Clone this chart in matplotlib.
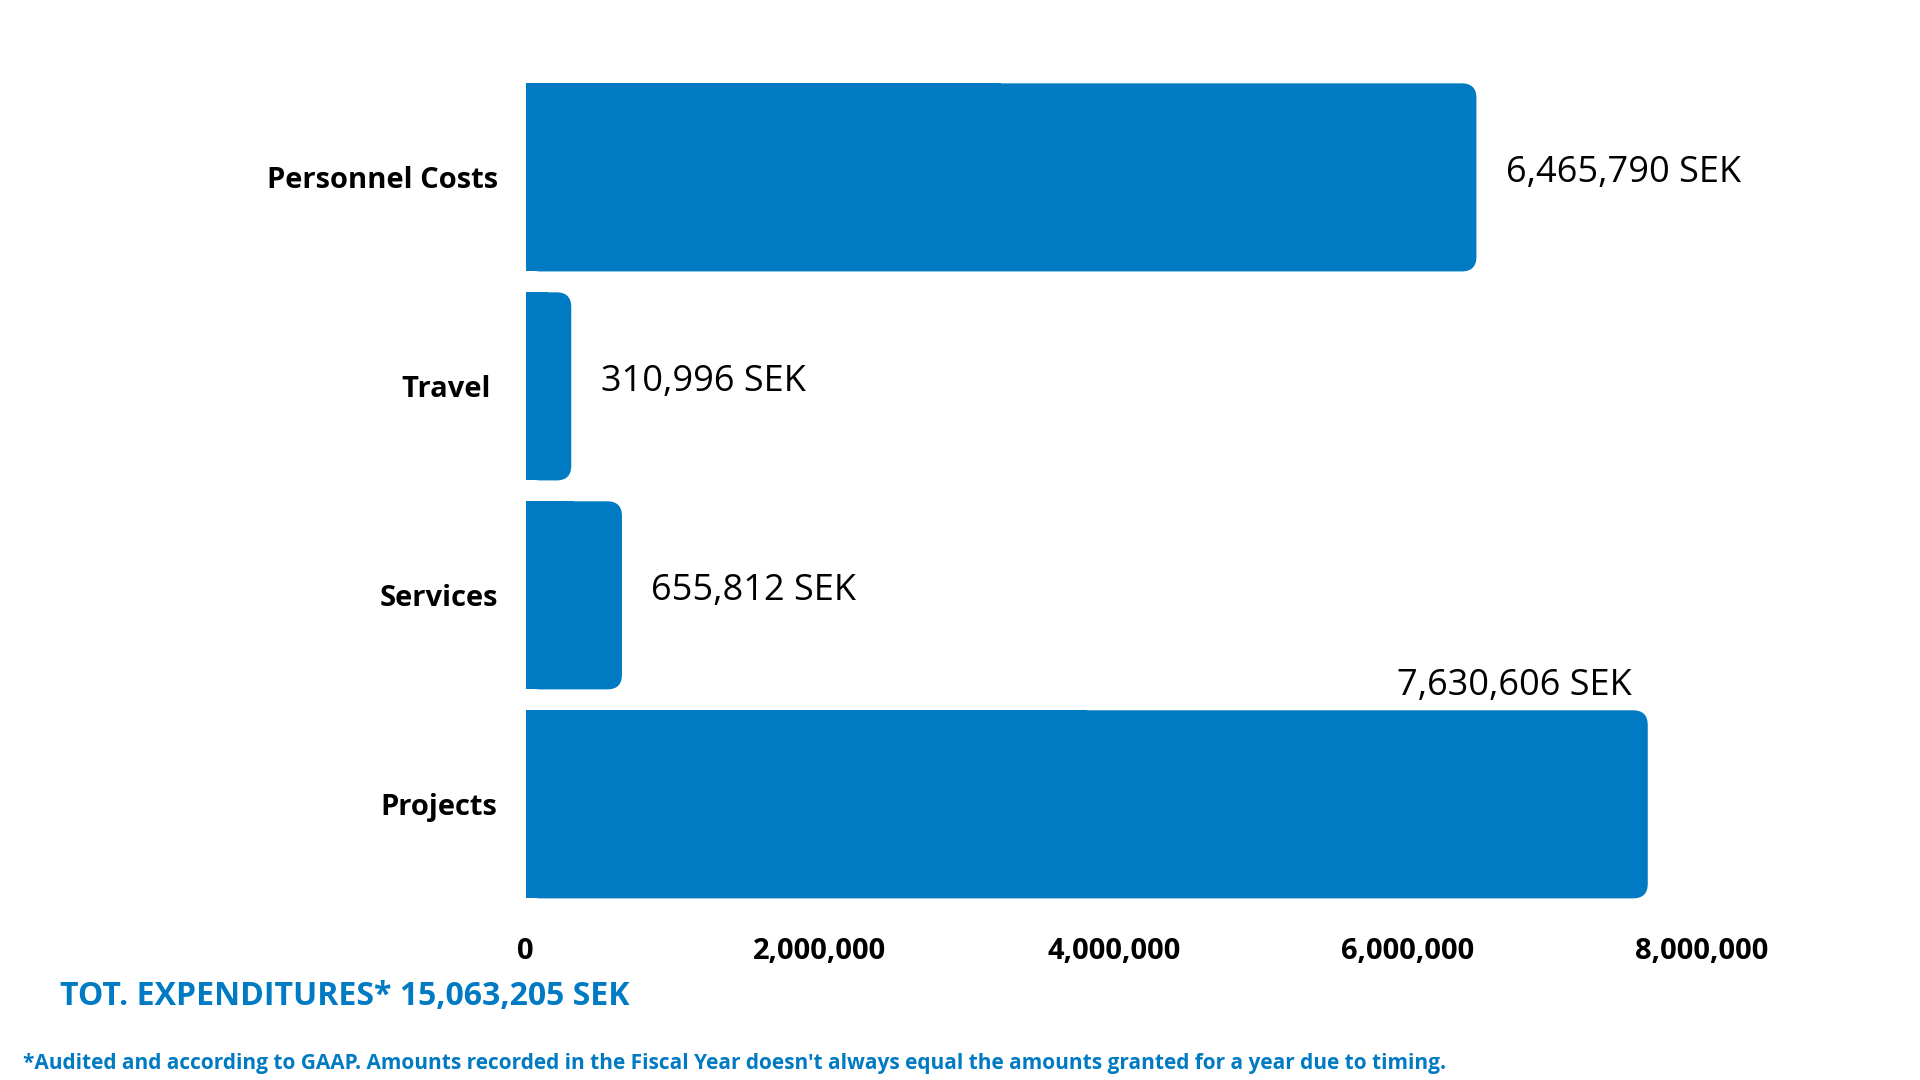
import matplotlib.pyplot as plt
from matplotlib.patches import FancyBboxPatch, Rectangle

categories = ["Personnel Costs", "Travel ", "Services", "Projects"]
values = [6465790, 310996, 655812, 7630606]
ticks = [0, 2000000, 4000000, 6000000, 8000000]
color = "#007AC2"

plt.rcParams['font.family'] = ['Open Sans', 'DejaVu Sans']
fig = plt.figure(figsize=(19.2, 10.8), dpi=100)
ax = fig.add_axes([0.2737, 0.1585, 0.6128, 0.774])
ax.set_xlim(0, 8000000)
ax.set_ylim(3.5, -0.5)

h = 0.9
r = 100000  # corner radius in x units
aspect = (1 / 170) / 8368
for i, v in enumerate(values):
    ax.add_patch(FancyBboxPatch((0, i - h / 2), v, h,
                                boxstyle="round,pad=0,rounding_size=%d" % r,
                                mutation_aspect=aspect, fc=color, ec="none"))
    ax.add_patch(Rectangle((0, i - h / 2), v / 2, h, fc=color, ec="none"))

for i, v in enumerate(values):
    txt = "{:,} SEK".format(v)
    if i == 3:
        ax.text(v - 110000, i - h / 2 - 0.03, txt, ha="right", va="bottom", fontsize=26)
    else:
        ax.text(v + 200000, i - 0.02, txt, ha="left", va="center", fontsize=26)

ax.set_yticks(range(len(categories)))
ax.set_yticklabels(categories, fontsize=21, fontweight="bold")
ax.set_xticks(ticks)
ax.set_xticklabels(["{:,}".format(t) for t in ticks], fontsize=21, fontweight="bold")
ax.tick_params(length=0, pad=20)
for s in ax.spines.values():
    s.set_visible(False)

fig.text(0.031, 0.077, "TOT. EXPENDITURES* 15,063,205 SEK", color=color,
         fontsize=23, fontweight="bold", va="center")
fig.text(0.012, 0.015, "*Audited and according to GAAP. Amounts recorded in the Fiscal Year doesn't always equal the amounts granted for a year due to timing.",
         color=color, fontsize=15, fontweight="bold", va="center")

fig.savefig("out.png")
